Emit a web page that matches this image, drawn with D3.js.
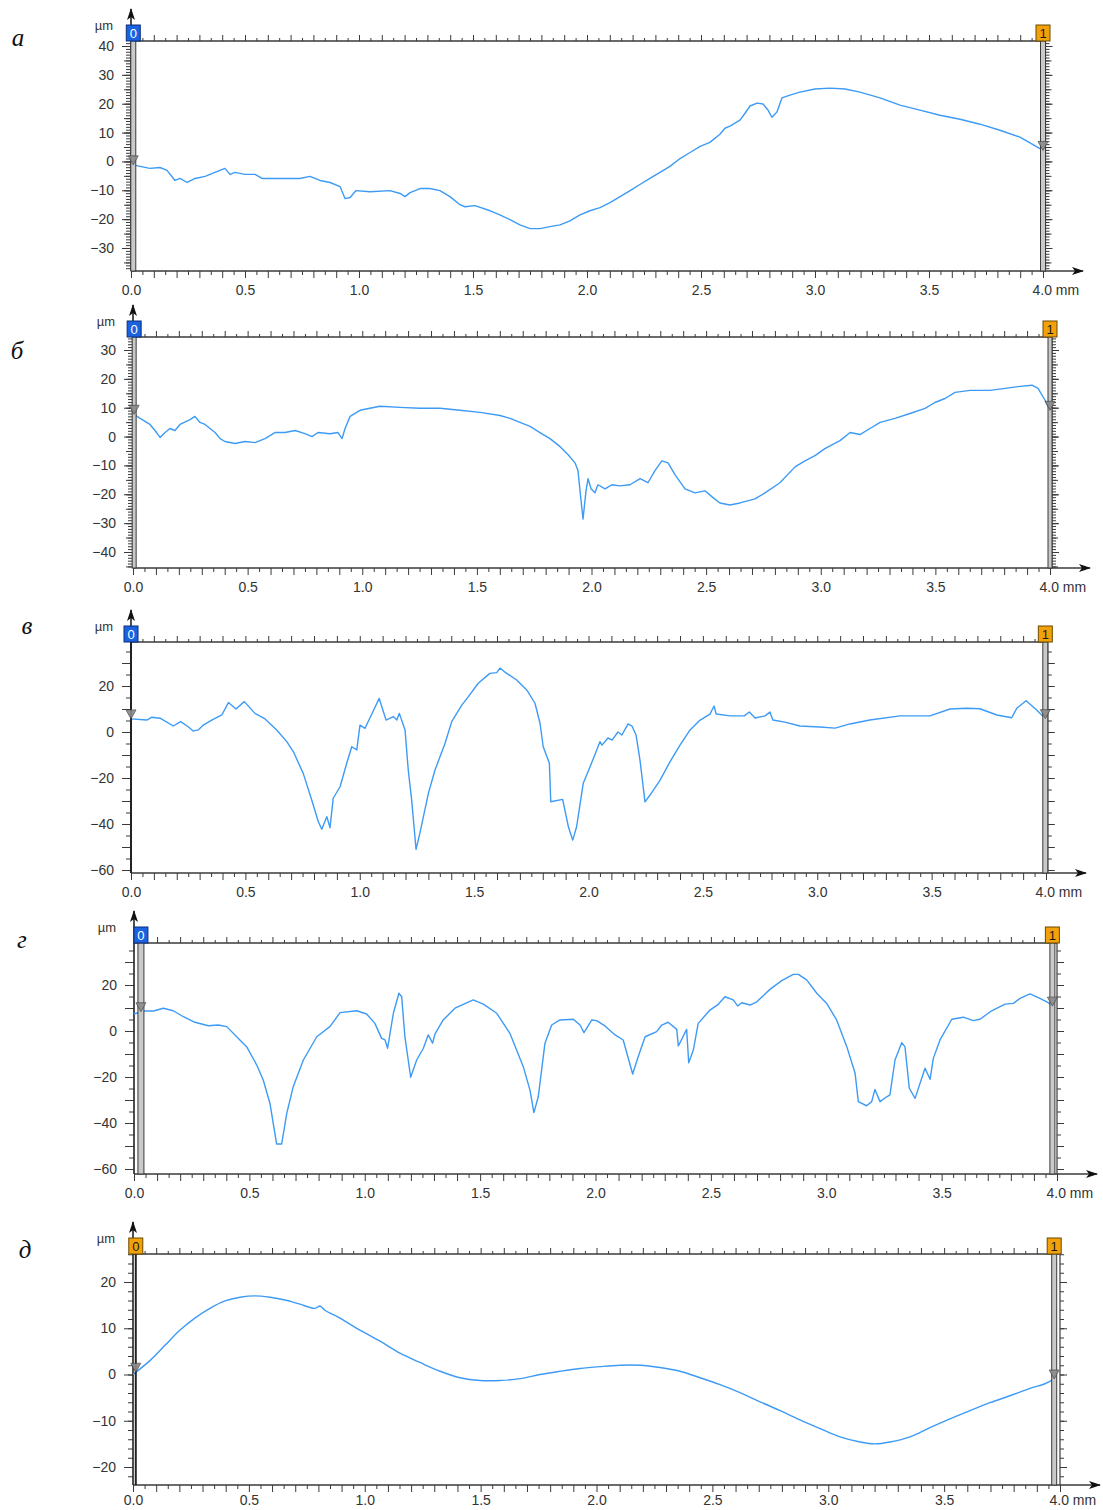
<!DOCTYPE html>
<html><head><meta charset="utf-8">
<script src="https://cdnjs.cloudflare.com/ajax/libs/d3/7.8.5/d3.min.js"></script>
<style>html,body{margin:0;padding:0;background:#fff;}svg{display:block;}</style>
</head><body>
<svg id="chart" width="1103" height="1510"></svg>
<script>
// ---------- DATA ----------
const panelLabels = ["а", "б", "в", "г", "д"];
const xTickValues = [0, 0.5, 1, 1.5, 2, 2.5, 3, 3.5, 4];
const xTickLabels = ["0.0", "0.5", "1.0", "1.5", "2.0", "2.5", "3.0", "3.5", "4.0 mm"];
const yUnitLabel = "µm";
const cursorLabels = ["0", "1"];

const yTicksA = [40, 30, 20, 10, 0, -10, -20, -30];
const yTicksB = [30, 20, 10, 0, -10, -20, -30, -40];
const yTicksC = [20, 0, -20, -40, -60];
const yTicksD = [20, 0, -20, -40, -60];
const yTicksE = [20, 10, 0, -10, -20];

// profile а
const distA = [0, 0.04, 0.083, 0.127, 0.158, 0.193, 0.215, 0.246, 0.281, 0.325, 0.368, 0.412, 0.434, 0.456, 0.5, 0.544, 0.575, 0.654, 0.741, 0.785, 0.829, 0.873, 0.917, 0.939, 0.961, 0.987, 1.048, 1.136, 1.18, 1.202, 1.224, 1.268, 1.311, 1.355, 1.399, 1.443, 1.465, 1.509, 1.575, 1.618, 1.662, 1.706, 1.75, 1.794, 1.838, 1.882, 1.925, 1.969, 2.013, 2.057, 2.101, 2.145, 2.189, 2.232, 2.276, 2.32, 2.364, 2.408, 2.452, 2.496, 2.539, 2.583, 2.605, 2.627, 2.671, 2.693, 2.715, 2.746, 2.772, 2.794, 2.811, 2.833, 2.855, 2.89, 2.934, 3.0, 3.066, 3.132, 3.197, 3.285, 3.373, 3.46, 3.548, 3.636, 3.724, 3.811, 3.899, 4.0];
const heightA = [-1.0, -1.7, -2.4, -2.1, -3.1, -6.6, -5.9, -7.3, -5.9, -5.2, -3.8, -2.4, -4.5, -3.8, -4.5, -4.5, -5.9, -5.9, -5.9, -5.2, -6.6, -7.3, -8.7, -12.9, -12.5, -10.1, -10.5, -10.1, -11.1, -12.2, -10.8, -9.4, -9.4, -10.1, -12.2, -15.0, -15.7, -15.3, -17.1, -18.5, -20.2, -22.0, -23.3, -23.3, -22.6, -22.0, -20.6, -18.5, -17.1, -16.0, -14.3, -12.2, -10.1, -8.0, -5.9, -3.8, -1.7, 1.0, 3.1, 5.2, 6.6, 9.4, 11.5, 12.2, 14.3, 16.7, 19.2, 20.2, 19.9, 17.8, 15.3, 17.1, 22.0, 23.0, 24.0, 25.1, 25.4, 25.1, 24.0, 22.0, 19.5, 17.8, 16.0, 14.6, 12.9, 10.8, 8.4, 3.8];

// profile б
const distB = [0, 0.031, 0.074, 0.096, 0.118, 0.14, 0.161, 0.183, 0.205, 0.249, 0.27, 0.292, 0.314, 0.336, 0.358, 0.38, 0.401, 0.445, 0.489, 0.532, 0.576, 0.619, 0.663, 0.707, 0.75, 0.781, 0.807, 0.859, 0.894, 0.912, 0.925, 0.947, 0.99, 1.077, 1.165, 1.252, 1.339, 1.426, 1.514, 1.601, 1.645, 1.688, 1.732, 1.775, 1.819, 1.863, 1.898, 1.928, 1.941, 1.95, 1.963, 1.976, 1.985, 1.998, 2.015, 2.028, 2.059, 2.089, 2.124, 2.168, 2.212, 2.246, 2.277, 2.307, 2.334, 2.364, 2.408, 2.451, 2.495, 2.526, 2.56, 2.604, 2.648, 2.713, 2.757, 2.822, 2.888, 2.931, 2.975, 3.018, 3.084, 3.128, 3.171, 3.215, 3.259, 3.324, 3.389, 3.455, 3.498, 3.542, 3.586, 3.651, 3.738, 3.804, 3.869, 3.921, 3.948, 3.979, 4.0];
const heightB = [8.0, 6.3, 4.2, 2.1, -0.3, 1.4, 2.8, 2.1, 4.2, 5.9, 7.0, 4.9, 4.2, 2.8, 1.4, -0.7, -1.7, -2.4, -1.7, -2.1, -0.7, 1.4, 1.4, 2.1, 1.0, 0, 1.4, 1.0, 1.4, -0.7, 2.8, 7.0, 9.1, 10.5, 10.1, 9.8, 9.8, 9.1, 8.4, 7.3, 6.3, 4.9, 3.5, 1.4, -0.7, -3.5, -6.3, -9.1, -11.8, -18.8, -28.6, -18.8, -14.6, -18.1, -19.5, -16.7, -18.1, -16.7, -17.1, -16.7, -14.6, -16.0, -11.8, -8.4, -9.1, -13.2, -18.1, -19.5, -18.8, -20.9, -23.0, -23.7, -23.0, -21.6, -19.5, -16.0, -10.5, -8.4, -6.6, -4.2, -1.4, 1.4, 0.7, 2.8, 4.9, 6.3, 8.0, 9.8, 11.8, 13.2, 15.3, 16.0, 16.0, 16.7, 17.4, 17.8, 16.7, 12.5, 9.1];

// profile в
const distC = [0, 0.069, 0.09, 0.127, 0.185, 0.217, 0.25, 0.272, 0.294, 0.316, 0.353, 0.397, 0.426, 0.459, 0.495, 0.542, 0.586, 0.637, 0.681, 0.71, 0.753, 0.79, 0.819, 0.834, 0.856, 0.87, 0.884, 0.914, 0.943, 0.965, 0.987, 1.001, 1.023, 1.059, 1.085, 1.115, 1.147, 1.162, 1.173, 1.198, 1.212, 1.227, 1.246, 1.263, 1.3, 1.329, 1.373, 1.402, 1.446, 1.475, 1.518, 1.569, 1.599, 1.613, 1.635, 1.686, 1.73, 1.766, 1.788, 1.802, 1.829, 1.835, 1.887, 1.912, 1.931, 1.948, 1.977, 2.007, 2.036, 2.05, 2.059, 2.085, 2.103, 2.129, 2.146, 2.173, 2.19, 2.208, 2.225, 2.247, 2.269, 2.313, 2.356, 2.4, 2.444, 2.488, 2.531, 2.549, 2.558, 2.619, 2.681, 2.703, 2.728, 2.772, 2.793, 2.806, 2.859, 2.924, 3.012, 3.078, 3.143, 3.23, 3.362, 3.493, 3.58, 3.653, 3.711, 3.785, 3.85, 3.872, 3.913, 3.959, 4.0];
const heightC = [5.7, 5.2, 6.4, 6.0, 2.6, 4.5, 2.3, 0.4, 0.9, 3.0, 5.2, 7.4, 12.8, 10.0, 13.2, 8.1, 5.7, 0.9, -4.2, -8.6, -18.0, -29.6, -39.0, -42.3, -36.8, -41.6, -28.8, -23.8, -13.6, -6.4, -7.8, 3.0, 1.6, 9.1, 14.6, 5.2, 6.7, 5.2, 8.1, 0.9, -16.5, -29.6, -51.0, -44.0, -26.7, -16.5, -4.9, 4.5, 11.7, 15.4, 21.2, 25.5, 25.8, 27.8, 26.0, 22.6, 18.3, 12.5, 3.8, -6.4, -13.6, -30.3, -29.3, -41.2, -47.0, -41.2, -22.3, -15.1, -7.8, -4.2, -5.7, -2.6, -3.5, 0, -1.3, 3.5, 2.6, -1.3, -12.2, -30.4, -27.4, -20.9, -13.0, -5.7, 0.9, 5.2, 7.8, 11.3, 7.8, 7.0, 7.0, 8.7, 6.1, 7.0, 8.7, 5.2, 4.3, 2.6, 2.2, 1.7, 3.5, 5.2, 7.0, 7.0, 10.0, 10.3, 10.1, 7.4, 6.2, 10.3, 13.6, 9.6, 5.5];

// profile г
const distD = [0, 0.04, 0.084, 0.127, 0.17, 0.214, 0.264, 0.322, 0.365, 0.402, 0.445, 0.488, 0.532, 0.56, 0.589, 0.618, 0.64, 0.662, 0.69, 0.734, 0.792, 0.849, 0.893, 0.965, 1.008, 1.044, 1.073, 1.088, 1.099, 1.124, 1.148, 1.16, 1.174, 1.199, 1.225, 1.254, 1.275, 1.294, 1.304, 1.34, 1.391, 1.47, 1.514, 1.572, 1.629, 1.687, 1.716, 1.733, 1.752, 1.781, 1.81, 1.846, 1.904, 1.933, 1.95, 1.984, 2.005, 2.041, 2.085, 2.12, 2.161, 2.185, 2.215, 2.265, 2.287, 2.315, 2.352, 2.359, 2.395, 2.404, 2.424, 2.445, 2.496, 2.532, 2.561, 2.597, 2.616, 2.634, 2.67, 2.699, 2.756, 2.807, 2.857, 2.879, 2.915, 2.959, 3.002, 3.045, 3.089, 3.125, 3.139, 3.175, 3.197, 3.211, 3.233, 3.262, 3.276, 3.298, 3.327, 3.341, 3.36, 3.385, 3.428, 3.45, 3.464, 3.493, 3.544, 3.594, 3.637, 3.666, 3.717, 3.775, 3.811, 3.84, 3.883, 3.926, 3.962, 3.991];
const heightD = [7.4, 8.7, 8.7, 9.9, 8.8, 6.2, 3.8, 2.3, 2.6, 1.9, -2.5, -6.8, -14.8, -21.3, -31.4, -49.1, -49.1, -35.8, -24.2, -12.6, -2.5, 1.9, 8.0, 8.8, 7.4, 3.3, -3.2, -3.9, -7.5, 7.7, 16.4, 14.9, -2.5, -20.1, -12.6, -7.5, -1.7, -5.3, -1.4, 4.8, 9.9, 13.5, 11.7, 7.7, -1.0, -15.5, -25.7, -35.5, -28.6, -5.3, 2.6, 4.8, 5.1, 2.6, -0.7, 4.8, 4.5, 2.2, -1.7, -3.9, -18.7, -11.2, -2.5, -0.3, 2.6, 3.8, 0.7, -6.5, 0.7, -13.8, -8.3, 3.3, 9.1, 11.6, 14.9, 13.5, 10.9, 12.3, 11.3, 12.7, 18.1, 21.9, 24.6, 24.6, 22.2, 16.4, 12.0, 4.8, -6.8, -18.4, -30.7, -32.5, -30.7, -25.4, -30.7, -28.6, -27.8, -12.6, -5.1, -6.8, -24.9, -29.3, -16.2, -21.0, -11.9, -3.9, 5.1, 6.0, 4.5, 5.1, 8.8, 11.7, 12.0, 14.2, 16.1, 14.2, 12.3, 9.9];

// profile д
const distE = [0, 0.073, 0.138, 0.203, 0.267, 0.332, 0.397, 0.462, 0.526, 0.591, 0.656, 0.721, 0.785, 0.807, 0.828, 0.893, 0.979, 1.066, 1.152, 1.238, 1.325, 1.411, 1.497, 1.584, 1.67, 1.756, 1.843, 1.929, 2.015, 2.101, 2.188, 2.274, 2.36, 2.447, 2.533, 2.619, 2.706, 2.792, 2.878, 2.965, 3.051, 3.137, 3.202, 3.266, 3.353, 3.439, 3.525, 3.612, 3.698, 3.784, 3.871, 3.935, 3.978];
const heightE = [0, 3.0, 6.3, 9.6, 12.2, 14.3, 15.9, 16.7, 17.0, 16.7, 16.1, 15.2, 14.3, 14.8, 13.9, 12.2, 9.6, 7.2, 4.6, 2.6, 0.7, -0.7, -1.3, -1.3, -0.9, 0, 0.7, 1.3, 1.7, 2.0, 2.0, 1.5, 0.7, -0.7, -2.2, -3.9, -5.9, -7.8, -9.8, -11.7, -13.5, -14.6, -15.0, -14.6, -13.5, -11.5, -9.6, -7.8, -6.1, -4.6, -3.0, -2.0, -0.9];

// cursor positions (mm)
const cursorPosA = [0.01, 4.0], cursorPosB = [0.005, 4.0], cursorPosC = [0.0, 3.997], cursorPosD = [0.03, 3.98], cursorPosE = [0.012, 3.975];

// ---------- LAYOUT ----------
const BLUE = "#1a62e0", ORANGE = "#f2a10a";
const layouts = [
  {label: panelLabels[0], lx: 18, ly: 46, xs: distA, ys: heightA, yTicks: yTicksA, xr: [131, 1043], fr: [41, 271], yRef: [40, 46, -30, 248], minor: 1, mid: 5, major: 10, cur: cursorPosA, cw: [5, 5], cc: [BLUE, ORANGE], pad: 14, smooth: false},
  {label: panelLabels[1], lx: 17, ly: 359, xs: distB, ys: heightB, yTicks: yTicksB, xr: [133, 1050], fr: [337, 568], yRef: [30, 350, -40, 552], minor: 1, mid: 5, major: 10, cur: cursorPosB, cw: [4, 4], cc: [BLUE, ORANGE], pad: 14, smooth: false},
  {label: panelLabels[2], lx: 27, ly: 634, xs: distC, ys: heightC, yTicks: yTicksC, xr: [131, 1046], fr: [642, 873], yRef: [20, 686, -60, 870], minor: 5, mid: null, major: 10, cur: cursorPosC, cw: [2, 5], cc: [BLUE, ORANGE], pad: 14, smooth: false},
  {label: panelLabels[3], lx: 22, ly: 948, xs: distD, ys: heightD, yTicks: yTicksD, xr: [134, 1057], fr: [943, 1174], yRef: [20, 985, -60, 1169], minor: 5, mid: null, major: 10, cur: cursorPosD, cw: [6, 5], cc: [BLUE, ORANGE], pad: 14, smooth: false},
  {label: panelLabels[4], lx: 25, ly: 1258, xs: distE, ys: heightE, yTicks: yTicksE, xr: [133, 1060], fr: [1254, 1485], yRef: [20, 1282, -20, 1467], minor: 2, mid: null, major: 10, cur: cursorPosE, cw: [2, 5], cc: [ORANGE, ORANGE], pad: 10, smooth: true}
];

const svg = d3.select("#chart");
const FONT = "'Liberation Sans', Arial, sans-serif";
const AX = "#3a3a3a", TXT = "#333";

function stepValues(lo, hi, step) {
  const out = [];
  for (let i = Math.ceil(lo / step); i * step <= hi + 1e-9; i++) out.push(+(i * step).toFixed(6));
  return out;
}
function interpAt(xs, ys, v) {
  if (v <= xs[0]) return ys[0];
  if (v >= xs[xs.length - 1]) return ys[ys.length - 1];
  const i = d3.bisectRight(xs, v);
  const t = (v - xs[i - 1]) / (xs[i] - xs[i - 1]);
  return ys[i - 1] + t * (ys[i] - ys[i - 1]);
}
function styleAxis(sel) {
  sel.select(".domain").remove();
  sel.selectAll(".tick line").attr("stroke", AX).attr("stroke-width", 1);
  sel.selectAll(".tick text").attr("fill", TXT).style("font-family", FONT).style("font-size", "14px");
}

layouts.forEach(p => {
  const g = svg.append("g");
  const x = d3.scaleLinear().domain([0, 4]).range(p.xr);
  const k = (p.yRef[3] - p.yRef[1]) / (p.yRef[2] - p.yRef[0]);
  const vAt = py => p.yRef[0] + (py - p.yRef[1]) / k;
  const y = d3.scaleLinear().domain([vAt(p.fr[1]), vAt(p.fr[0])]).range([p.fr[1], p.fr[0]]);
  const [top, bot] = p.fr;
  const x0 = p.xr[0], x4 = p.xr[1];
  const [yLo, yHi] = y.domain();

  // panel label
  g.append("text").attr("x", p.lx).attr("y", p.ly).attr("text-anchor", "middle")
    .style("font-family", "'Liberation Serif', 'Times New Roman', serif").style("font-style", "italic")
    .style("font-size", "25px").attr("fill", "#111").text(p.label);

  // x ticks (top and bottom)
  const xMinor = d3.range(0, 81).map(i => i * 0.05).filter((v, i) => i % 2 === 1);
  const xMajor = d3.range(0, 41).map(i => i * 0.1);
  g.append("g").attr("transform", `translate(0,${top})`).call(d3.axisTop(x).tickValues(xMinor).tickSize(3).tickFormat("")).call(styleAxis);
  g.append("g").attr("transform", `translate(0,${top})`).call(d3.axisTop(x).tickValues(xMajor).tickSize(6).tickFormat("")).call(styleAxis);
  g.append("g").attr("transform", `translate(0,${bot})`).call(d3.axisBottom(x).tickValues(xMinor).tickSize(4).tickFormat("")).call(styleAxis);
  g.append("g").attr("transform", `translate(0,${bot})`).call(d3.axisBottom(x).tickValues(xMajor).tickSize(7).tickFormat("")).call(styleAxis);
  const xl = g.append("g").attr("transform", `translate(0,${bot})`)
    .call(d3.axisBottom(x).tickValues(xTickValues).tickSize(0).tickPadding(p.pad).tickFormat((d, i) => xTickLabels[i]))
    .call(styleAxis);
  xl.selectAll(".tick text").filter((d, i) => i === xTickValues.length - 1).attr("text-anchor", "start").attr("x", -11);

  // y ticks left
  const cRight = x(p.cur[1]);
  const rightBase = Math.max(x4, cRight + p.cw[1] / 2);
  const minorV = stepValues(yLo, yHi, p.minor);
  const majorV = stepValues(yLo, yHi, p.major);
  g.append("g").attr("transform", `translate(${x0},0)`).call(d3.axisLeft(y).tickValues(minorV).tickSize(5).tickFormat("")).call(styleAxis);
  if (p.mid) g.append("g").attr("transform", `translate(${x0},0)`).call(d3.axisLeft(y).tickValues(stepValues(yLo, yHi, p.mid)).tickSize(7).tickFormat("")).call(styleAxis);
  g.append("g").attr("transform", `translate(${x0},0)`).call(d3.axisLeft(y).tickValues(majorV).tickSize(9).tickFormat("")).call(styleAxis);
  g.append("g").attr("transform", `translate(${x0},0)`).call(d3.axisLeft(y).tickValues(p.yTicks).tickSize(0).tickPadding(17).tickFormat(d3.format("d"))).call(styleAxis);
  // y ticks right
  g.append("g").attr("transform", `translate(${rightBase},0)`).call(d3.axisRight(y).tickValues(minorV).tickSize(4).tickFormat("")).call(styleAxis);
  if (p.mid) g.append("g").attr("transform", `translate(${rightBase},0)`).call(d3.axisRight(y).tickValues(stepValues(yLo, yHi, p.mid)).tickSize(6).tickFormat("")).call(styleAxis);
  g.append("g").attr("transform", `translate(${rightBase},0)`).call(d3.axisRight(y).tickValues(majorV).tickSize(7).tickFormat("")).call(styleAxis);

  // frame lines
  g.append("line").attr("x1", x0).attr("x2", x4).attr("y1", top).attr("y2", top).attr("stroke", AX).attr("stroke-width", 1.6);
  g.append("line").attr("x1", x0).attr("x2", x4 + 40).attr("y1", bot).attr("y2", bot).attr("stroke", AX).attr("stroke-width", 1.6);
  g.append("line").attr("x1", x0).attr("x2", x0).attr("y1", top - 32).attr("y2", bot).attr("stroke", "#222").attr("stroke-width", 1.6);
  g.append("line").attr("x1", rightBase).attr("x2", rightBase).attr("y1", top).attr("y2", bot).attr("stroke", AX).attr("stroke-width", 1.2);
  // arrows
  g.append("path").attr("d", `M${x0},${top - 33}L${x0 - 4},${top - 21}L${x0},${top - 24}L${x0 + 4},${top - 21}Z`).attr("fill", "#111");
  g.append("path").attr("d", `M${x4 + 41},${bot}L${x4 + 29},${bot - 4}L${x4 + 32},${bot}L${x4 + 29},${bot + 4}Z`).attr("fill", "#111");
  g.append("text").attr("x", x0 - 27).attr("y", top - 11).attr("text-anchor", "middle")
    .style("font-family", FONT).style("font-size", "13px").attr("fill", TXT).text(yUnitLabel);

  // profile curve
  const pts = p.xs.map((v, i) => [v, p.ys[i]]);
  const lineGen = d3.line().x(d => x(d[0])).y(d => y(d[1]));
  if (p.smooth) lineGen.curve(d3.curveCatmullRom.alpha(0.5));
  g.append("path").datum(pts).attr("fill", "none").attr("stroke", "#3d9bf5").attr("stroke-width", 1.4)
    .attr("stroke-linejoin", "round").attr("d", lineGen);

  // cursors
  p.cur.forEach((c, ci) => {
    const cx = x(c), w = p.cw[ci];
    if (w > 2) {
      g.append("rect").attr("x", cx - w / 2).attr("y", top).attr("width", w).attr("height", bot - top)
        .attr("fill", "#c9c9c9").attr("stroke", "#3a3a3a").attr("stroke-width", 1);
    } else {
      g.append("line").attr("x1", cx).attr("x2", cx).attr("y1", top).attr("y2", bot).attr("stroke", "#222").attr("stroke-width", 2);
    }
    const vy = y(interpAt(p.xs, p.ys, c));
    g.append("path").attr("d", `M${cx - 5},${vy - 9}L${cx + 5},${vy - 9}L${cx},${vy}Z`)
      .attr("fill", "#8a8a8a").attr("stroke", "#4a4a4a").attr("stroke-width", 0.8).attr("opacity", 0.9);
    const col = p.cc[ci];
    g.append("rect").attr("x", cx - 7).attr("y", top - 16).attr("width", 14).attr("height", 16)
      .attr("fill", col).attr("stroke", col === BLUE ? "#0b2f7a" : "#6b4a00").attr("stroke-width", 1);
    g.append("text").attr("x", cx).attr("y", top - 3.5).attr("text-anchor", "middle")
      .style("font-family", FONT).style("font-size", "13px")
      .attr("fill", col === BLUE ? "#fff" : "#1a1a1a").text(cursorLabels[ci]);
  });
});
</script>
</body></html>
